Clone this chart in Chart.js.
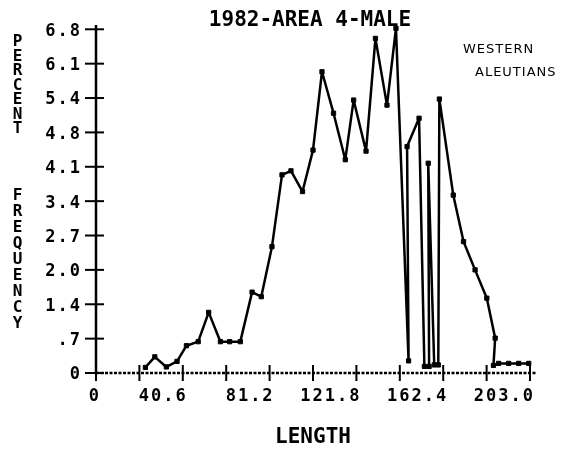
<!DOCTYPE html>
<html>
<head>
<meta charset="utf-8">
<script src="https://cdn.jsdelivr.net/npm/chart.js@4/dist/chart.umd.min.js"></script>
<style>
html,body{margin:0;padding:0;background:#fff;}
#wrap{width:585px;height:450px;position:relative;}
</style>
</head>
<body>
<div id="wrap"><canvas id="c" width="585" height="450"></canvas></div>
<script>
// ---- text ----
const chartTitle = '1982-AREA 4-MALE';
const xTitle = 'LENGTH';
const yTitleWords = ['PERCENT', 'FREQUENCY'];
const noteLines = ['WESTERN', 'ALEUTIANS'];

// ---- data (length vs percent frequency) ----
const lengths = [23.1, 27.5, 32.9, 37.9, 42.3, 47.8, 52.7, 58.2, 62.5, 67.5,
                 73.0, 77.3, 82.3, 87.0, 91.2, 96.6, 101.5, 105.7, 111.1, 116.6,
                 120.5, 126.3, 130.7, 136.1, 140.3, 146.2, 145.5, 151.1, 153.6, 155.8,
                 155.4, 158.2, 160.1, 160.6, 167.1, 171.9, 177.3, 182.8, 186.7, 185.9,
                 188.3, 193.0, 197.7, 202.4];
const percents = [0.11, 0.32, 0.12, 0.23, 0.54, 0.62, 1.20, 0.62, 0.62, 0.62,
                  1.60, 1.51, 2.50, 3.92, 4.00, 3.59, 4.41, 5.96, 5.14, 4.22,
                  5.40, 4.39, 6.62, 5.30, 6.82, 0.24, 4.48, 5.04, 0.13, 0.13,
                  4.15, 0.16, 0.16, 5.42, 3.52, 2.60, 2.04, 1.48, 0.69, 0.15,
                  0.19, 0.19, 0.19, 0.19];

// ---- ticks ----
const xTickValues = [0, 20.3, 40.6, 60.9, 81.2, 101.5, 121.8, 142.1, 162.4, 182.7, 203.0];
const xTickLabels = ['0', '', '40.6', '', '81.2', '', '121.8', '', '162.4', '', '203.0'];
const yTickValues = [0, 0.68, 1.36, 2.04, 2.72, 3.4, 4.08, 4.76, 5.44, 6.12, 6.8];
const yTickLabels = ['0', '.7', '1.4', '2.0', '2.7', '3.4', '4.1', '4.8', '5.4', '6.1', '6.8'];

const MONO = '"DejaVu Sans Mono", "Liberation Mono", monospace';

const plotterPlugin = {
  id: 'plotter',
  beforeDraw(chart) {
    chart.ctx.letterSpacing = '2px';
  },
  beforeDatasetsDraw(chart) {
    const ctx = chart.ctx;
    const a = chart.chartArea;
    const xs = chart.scales.x, ys = chart.scales.y;
    const x0 = xs.getPixelForValue(0), y0 = ys.getPixelForValue(0);
    ctx.save();
    ctx.strokeStyle = '#000';
    ctx.lineCap = 'butt';
    // y axis (solid)
    ctx.lineWidth = 2.5;
    ctx.beginPath(); ctx.moveTo(x0, y0 + 1); ctx.lineTo(x0, a.top); ctx.stroke();
    // y tick marks crossing the axis
    ctx.lineWidth = 2;
    yTickValues.forEach(v => {
      const py = ys.getPixelForValue(v);
      ctx.beginPath(); ctx.moveTo(x0 - 11, py); ctx.lineTo(x0 + 8, py); ctx.stroke();
    });
    // x axis (dotted)
    ctx.lineWidth = 2.5;
    ctx.setLineDash([3, 1.5]);
    ctx.beginPath(); ctx.moveTo(x0, y0); ctx.lineTo(a.right, y0); ctx.stroke();
    ctx.setLineDash([]);
    // x tick marks crossing the axis
    ctx.lineWidth = 2;
    xTickValues.forEach(v => {
      const px = xs.getPixelForValue(v);
      ctx.beginPath(); ctx.moveTo(px, y0 - 8); ctx.lineTo(px, y0 + 8); ctx.stroke();
    });
    ctx.restore();
  },
  afterDraw(chart) {
    const ctx = chart.ctx;
    ctx.save();
    ctx.letterSpacing = '0px';
    ctx.fillStyle = '#000';
    ctx.textAlign = 'center';
    ctx.textBaseline = 'middle';
    // main title
    ctx.font = 'bold 21px ' + MONO;
    ctx.fillText(chartTitle, 310, 21);
    // x axis title
    ctx.fillText(xTitle, 313, 438);
    // y axis title: upright stacked letters
    ctx.font = 'bold 16px ' + MONO;
    const starts = [42, 196];
    const pitches = [14.5, 16];
    yTitleWords.forEach((w, wi) => {
      [...w].forEach((ch, i) => ctx.fillText(ch, 17.5, starts[wi] + i * pitches[wi]));
    });
    // handwritten note
    ctx.textAlign = 'left';
    ctx.font = '13px "DejaVu Sans", sans-serif';
    ctx.letterSpacing = '1px';
    ctx.fillText(noteLines[0], 463, 50);
    ctx.fillText(noteLines[1], 475, 73);
    ctx.restore();
  }
};

const points = lengths.map((x, i) => ({ x: x, y: percents[i] }));

new Chart(document.getElementById('c').getContext('2d'), {
  type: 'line',
  data: {
    datasets: [{
      data: points,
      borderColor: '#000',
      borderWidth: 2.5,
      borderJoinStyle: 'round',
      tension: 0,
      fill: false,
      pointStyle: 'rect',
      pointRadius: 3,
      pointBackgroundColor: '#000',
      pointBorderColor: '#000',
      pointBorderWidth: 1,
      clip: false
    }]
  },
  options: {
    responsive: false,
    animation: false,
    devicePixelRatio: 1,
    layout: { padding: { top: 25, right: 49, bottom: 0, left: 0 } },
    plugins: { legend: { display: false }, tooltip: { enabled: false }, title: { display: false } },
    scales: {
      x: {
        type: 'linear',
        min: 0,
        max: 205.8,
        afterBuildTicks: s => { s.ticks = xTickValues.map(v => ({ value: v })); },
        afterFit: s => { s.height = 77; },
        grid: { display: false, drawTicks: false },
        border: { display: false },
        ticks: {
          autoSkip: false, maxRotation: 0, minRotation: 0,
          align: 'end', labelOffset: 5, padding: 13,
          color: '#000',
          font: { family: MONO, size: 17, weight: 'bold' },
          callback: (v, i) => xTickLabels[i]
        }
      },
      y: {
        type: 'linear',
        min: 0,
        max: 6.885,
        afterBuildTicks: s => { s.ticks = yTickValues.map(v => ({ value: v })); },
        afterFit: s => { s.width = 96; },
        grid: { display: false, drawTicks: false },
        border: { display: false },
        ticks: {
          autoSkip: false,
          labelOffset: 2, padding: 14,
          color: '#000',
          font: { family: MONO, size: 17, weight: 'bold' },
          callback: (v, i) => yTickLabels[i]
        }
      }
    }
  },
  plugins: [plotterPlugin]
});
</script>
</body>
</html>
